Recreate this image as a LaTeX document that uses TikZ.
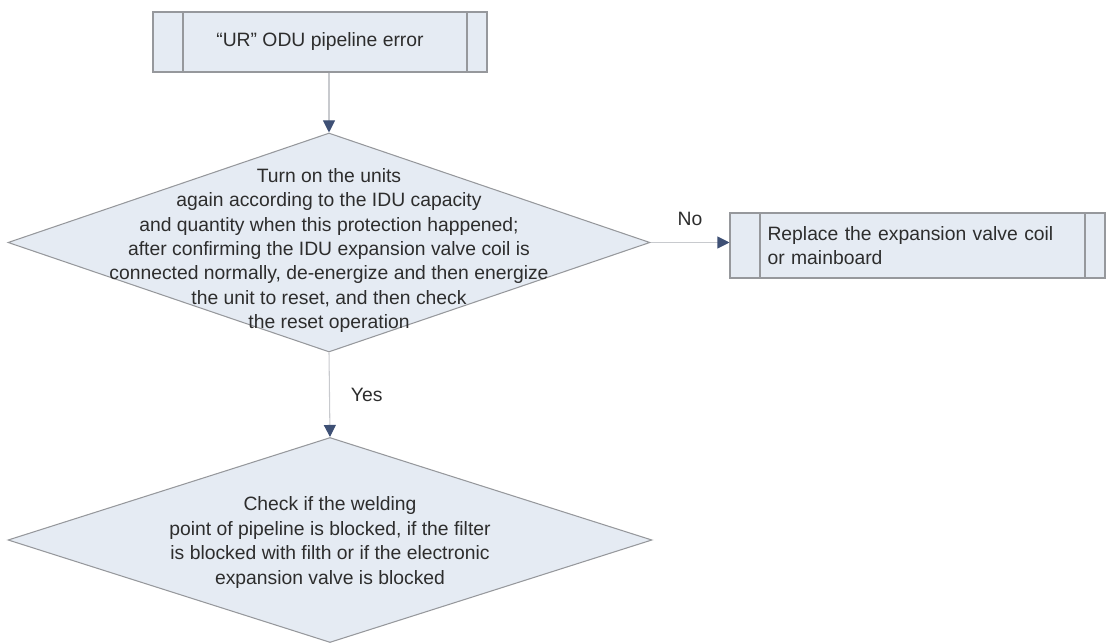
\documentclass[tikz,border=0pt]{standalone}
\usepackage{fontspec}
\setmainfont{Liberation Sans}
\usepackage{tikz}
\usetikzlibrary{arrows.meta, positioning, calc, shapes.geometric}
\usepackage{xcolor}
\definecolor{boxfill}{RGB}{229,235,243}
\definecolor{edgegray}{RGB}{150,152,156}
\definecolor{tipblue}{RGB}{62,80,117}
\definecolor{linegray}{RGB}{200,202,206}
\definecolor{txtgray}{RGB}{45,45,45}

\begin{document}
\begin{tikzpicture}[line width=0.6pt,
    procbox/.style={draw=edgegray, fill=boxfill, inner sep=0pt, text=txtgray,
        font=\fontsize{11}{13.9}\selectfont,
        path picture={
            \draw[edgegray] ([xshift=0.6cm]path picture bounding box.north west) -- ([xshift=0.6cm]path picture bounding box.south west);
            \draw[edgegray] ([xshift=-0.4cm]path picture bounding box.north east) -- ([xshift=-0.4cm]path picture bounding box.south east);
        }},
    decision/.style={diamond, draw=edgegray, fill=boxfill, inner sep=0pt},
    dtext/.style={align=center, text=txtgray, font=\fontsize{11}{13.9}\selectfont},
    flowline/.style={draw=linegray, -{Triangle[length=2.4mm, width=2.4mm, color=tipblue]}},
    flowlabel/.style={text=txtgray, font=\fontsize{11}{13}\selectfont}]
    \useasboundingbox (0,0) rectangle (22.16,-12.88);

    % Boxes
    \node[procbox, minimum width=6.68cm, minimum height=1.2cm] (err) at (6.4,-0.84) {``UR'' ODU pipeline error};
    \node[procbox, minimum width=7.5cm, minimum height=1.3cm, text width=6cm, align=left] (repl) at (18.35,-4.91)
        {Replace the expansion valve coil\\or mainboard};

    % Decisions
    \node[decision, minimum width=12.84cm, minimum height=4.38cm] (turnon) at (6.58,-4.85) {};
    \node[dtext] (turnontxt) at ([yshift=-0.16cm]turnon.center) {Turn on the units\\again according to the IDU capacity\\and quantity when this protection happened;\\after confirming the IDU expansion valve coil is\\connected normally, de-energize and then energize\\the unit to reset, and then check\\the reset operation};
    \node[decision, minimum width=12.88cm, minimum height=4.1cm] (check) at (6.6,-10.8) {};
    \node[dtext] (checktxt) at ([yshift=-0.05cm]check.center) {Check if the welding\\point of pipeline is blocked, if the filter\\is blocked with filth or if the electronic\\expansion valve is blocked};

    % Connectors
    \draw[flowline] (err.south -| turnon.north) -- (turnon.north);
    \draw[flowline] (turnon.east) -- (turnon.east -| repl.west) node[flowlabel, midway, above=2mm] {No};
    \draw[flowline] (turnon.south) -- (check.north) node[flowlabel, midway, right=3mm] {Yes};
\end{tikzpicture}
\end{document}
